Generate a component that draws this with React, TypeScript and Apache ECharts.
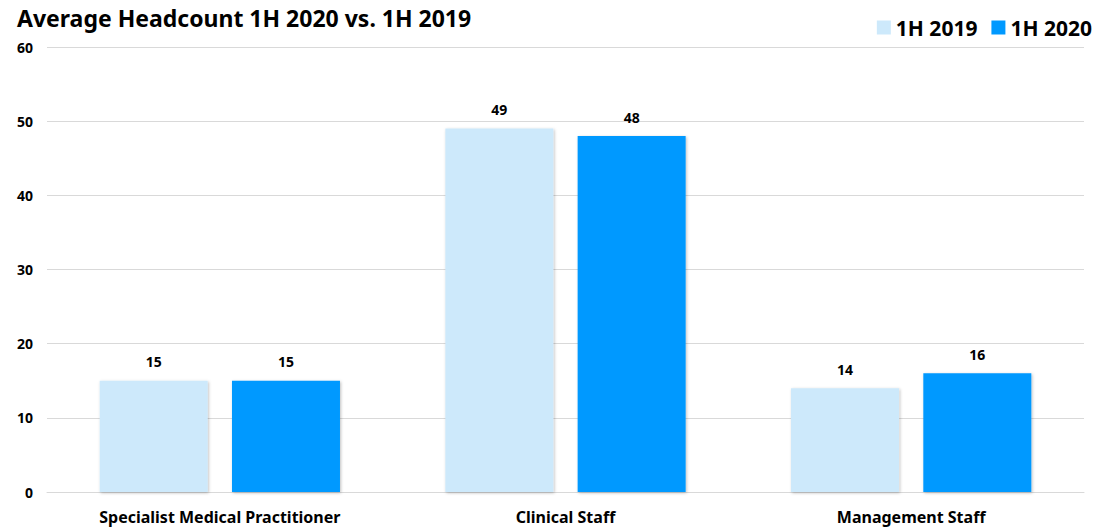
import React, { useEffect, useRef } from "react";
import * as echarts from "echarts";

const categories = ["Specialist Medical Practitioner", "Clinical Staff", "Management Staff"];
const values2019 = [15, 49, 14];
const values2020 = [15, 48, 16];
const seriesNames = ["1H 2019", "1H 2020"];

const FONT2 = "'Noto Sans', 'Open Sans', sans-serif";

export default function App() {
  const ref = useRef<HTMLDivElement>(null);
  useEffect(() => {
    document.body.style.margin = "0";
    const chart = echarts.init(ref.current!, null, { renderer: "svg" });
    const shadow = {
      shadowColor: "rgba(0,0,0,0.25)",
      shadowBlur: 3,
      shadowOffsetX: 1,
      shadowOffsetY: 1,
    };
    const label = {
      show: true,
      position: "top",
      distance: 12,
      fontFamily: FONT2,
      fontWeight: "bold",
      fontSize: 14,
      color: "#000",
    };
    chart.setOption({
      animation: false,
      backgroundColor: "#ffffff",
      title: {
        text: "Average Headcount 1H 2020 vs. 1H 2019",
        left: 17,
        top: 5,
        padding: 0,
        textStyle: { fontFamily: FONT2, fontWeight: "bold", fontSize: 23, color: "#000", lineHeight: 26 },
      },
      legend: {
        right: 2,
        top: 12,
        itemWidth: 14,
        itemHeight: 14,
        itemGap: 14,
        icon: "rect",
        textStyle: { fontFamily: FONT2, fontWeight: "bold", fontSize: 21, color: "#000" },
        data: seriesNames,
      },
      grid: { left: 47, right: 15, top: 47, bottom: 36, containLabel: false },
      xAxis: {
        type: "category",
        data: categories,
        axisLine: { lineStyle: { color: "#d9d9d9", width: 1 } },
        axisTick: { show: false },
        axisLabel: {
          fontFamily: FONT2,
          fontWeight: "bold",
          fontSize: 16,
          color: "#000",
          margin: 17,
        },
      },
      yAxis: {
        type: "value",
        min: 0,
        max: 60,
        interval: 10,
        axisLine: { show: false },
        axisTick: { show: false },
        splitLine: { lineStyle: { color: "#d9d9d9", width: 1 } },
        axisLabel: {
          fontFamily: FONT2,
          fontWeight: "bold",
          fontSize: 14,
          color: "#000",
          margin: 14,
        },
      },
      series: [
        {
          name: seriesNames[0],
          type: "bar",
          data: values2019,
          barWidth: 108,
          barGap: "22.5%",
          itemStyle: { color: "#cde9fb", ...shadow },
          label,
        },
        {
          name: seriesNames[1],
          type: "bar",
          data: values2020,
          barWidth: 108,
          barGap: "22.5%",
          itemStyle: { color: "#0099ff", ...shadow },
          label,
        },
      ],
    });
    return () => chart.dispose();
  }, []);
  return <div ref={ref} style={{ width: 1099, height: 528 }} />;
}
